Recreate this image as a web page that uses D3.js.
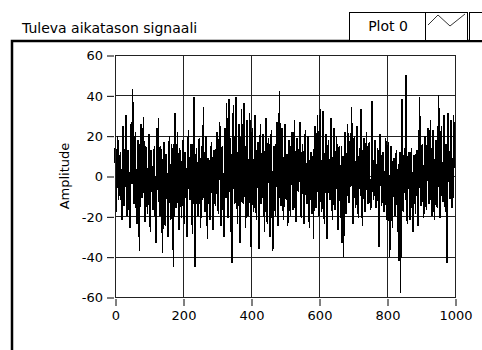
<!DOCTYPE html>
<html>
<head>
<meta charset="utf-8">
<script src="https://cdn.jsdelivr.net/npm/d3@7"></script>
<style>
  body { margin: 0; background: #fff; }
  svg { display: block; font-family: "DejaVu Sans", sans-serif; }
</style>
</head>
<body>
<div id="chart"></div>
<script>
// signal samples 0, 4, 8 ... 1000 (envelope and spikes)
const signalMain = [
  14, -18, 20, -8, 12, -22, 25, -15, 30, -20, 8, -26, 27, 43, -14, 22, -24, 18, -37, 26, -10, 29, -23, 12, -19,
  21, -28, 6, -17, 15, -33, 24, 29, -20, 10, -38, 17, -25, 4, -30, 20, -22, 12, -45, 31, -16, 22, -27, 9, -21,
  18, -24, 5, -30, 23, -12, 16, -29, 39, -45, 14, -20, 19, -26, 11, 34, -18, 20, -31, 8, -22, 17, -27, 13, -15,
  22, -19, 27, -25, 15, -30, 24, 36, -21, 38, -28, -43, 35, -14, 39, -24, 26, -33, 33, -12, 36, -26, 28, -20, 31,
  -35, 24, -18, 30, -22, 17, -36, 26, -10, 21, -28, 29, -24, 19, -30, 23, -37, 15, -20, 27, -25, 42, -15, 24, -22,
  26, -12, -25, 18, -20, 22, -17, 28, -23, 19, -8, 27, -21, 16, -24, 23, -14, 20, -26, 12, -19, -31, 25, -16, 30,
  -20, 33, -18, 32, -24, 21, -31, 18, -12, 29, -22, 24, -17, 20, -27, 15, -21, -33, -40, 22, -19, 26, -13, 18, 34,
  -24, 20, -16, 25, -21, 14, 33, -25, 19, -18, 22, -14, 17, -17, 37, -12, 18, -16, 14, -35, 21, -15, 12, -18, 19,
  -22, 17, -40, 15, -26, 9, -20, 13, -28, -42, -58, 38, -18, 14, 50, -24, 12, -22, 14, -28, 10, -19, 13, -25, 39,
  -15, 16, -21, 20, -17, 24, -14, 28, -20, 23, -22, 18, -16, 40, -21, 25, -13, 30, -18, -43, 31, -11, 28, -16, 30,
  4
];
// signal samples 2, 6, 10 ... 998, the dense core of the band
const signalMid = [
  -5, 10, -12, 6, -9, 15, -14, 11, -6, 13, -17, 9, -4, -10, 12, -13, 7, -16, 14, -11, 17, -8, 15, -12, 6,
  -9, 13, -11, 8, -16, 12, -7, -12, 15, -18, 9, -13, 11, -14, 7, -10, 16, -19, 13, -9, 8, -13, 14, -11, 10,
  -7, 12, -15, 9, -5, 11, -16, 13, -10, 8, -14, 10, -6, 15, -12, -8, 14, -11, 9, -15, 12, -8, 10, -13, 16,
  -6, 14, -9, 12, -13, 10, -11, 15, -8, 13, 11, -17, 12, -10, 14, -7, 9, -12, 16, -14, 10, -9, 13, -11, 12,
  10, -13, 15, -8, 12, -16, 11, -14, 9, -12, 13, -10, 15, -7, 11, -15, 8, -12, 14, -9, 16, -11, 10, -13, 12,
  -8, 11, 6, -10, 13, -9, 12, -15, 10, -7, 14, -11, 9, -13, 12, -8, 11, -16, 7, -12, 10, 13, -9, 14, -11,
  12, -10, 14, -13, 9, -15, 11, -8, 13, -12, 10, -14, 8, -11, 12, -9, 15, 10, -16, 12, -8, 11, -13, 10, -9,
  11, -8, 13, -12, 9, -10, -14, 12, -9, 10, -7, 12, -11, -6, 9, -8, 10, -12, 11, -7, 8, -10, 9, -13, 11,
  8, -14, 10, -12, 7, -11, 9, -13, 6, 12, 11, -10, 8, -12, -15, 9, -11, 8, -14, 10, -7, 11, -12, 9, -10,
  11, -9, 12, -10, 13, -8, 14, -11, 12, -13, 9, -10, 15, -14, 11, -9, 13, -10, 16, -12, 8, -11, 14, -9, 12
];

const xTicks = [0, 200, 400, 600, 800, 1000];
const yTicks = [-60, -40, -20, 0, 20, 40, 60];

const title = 'Tuleva aikatason signaali';
const yLabel = 'Amplitude';
const legendLabel = 'Plot 0';

// merge the two lists into one series of [sample, value]
const points = [];
signalMain.forEach((v, i) => {
  points.push([i * 4, v]);
  if (i < signalMid.length) points.push([i * 4 + 2, signalMid[i]]);
});

const width = 482;
const height = 350;
const plot = { left: 115, right: 455, top: 55, bottom: 297 };

const x = d3.scaleLinear([0, 1000], [plot.left, plot.right]);
const y = d3.scaleLinear([-60, 60], [plot.bottom, plot.top]);

const svg = d3.select('#chart')
  .append('svg')
  .attr('width', width)
  .attr('height', height);

// outer frame of the graph control
svg.append('path')
  .attr('d', `M12,${height + 5}V41H${width + 5}`)
  .attr('fill', 'none')
  .attr('stroke', '#000')
  .attr('stroke-width', 2.5);

// title
svg.append('text')
  .attr('x', 22)
  .attr('y', 33)
  .attr('font-size', 14)
  .attr('fill', '#000')
  .text(title);

// legend
const legend = svg.append('g');
legend.append('rect')
  .attr('x', 349.5).attr('y', 12.5).attr('width', 76).attr('height', 28)
  .attr('fill', '#fff').attr('stroke', '#000');
legend.append('text')
  .attr('x', 388).attr('y', 31)
  .attr('text-anchor', 'middle')
  .attr('font-size', 14)
  .text(legendLabel);
legend.append('rect')
  .attr('x', 425.5).attr('y', 12.5).attr('width', 42).attr('height', 28)
  .attr('fill', '#fff').attr('stroke', '#000');
legend.append('polyline')
  .attr('points', '428,25 438,15 450,26 465,14')
  .attr('fill', 'none').attr('stroke', '#000').attr('stroke-width', 0.8);
legend.append('rect')
  .attr('x', 469.5).attr('y', 12.5).attr('width', 20).attr('height', 28)
  .attr('fill', '#fff').attr('stroke', '#000');

// grid
const grid = svg.append('g').attr('stroke', '#222').attr('stroke-width', 1);
grid.selectAll('.gx')
  .data(xTicks.slice(1, -1))
  .join('line')
  .attr('x1', d => Math.round(x(d)) + 0.5).attr('x2', d => Math.round(x(d)) + 0.5)
  .attr('y1', plot.top).attr('y2', plot.bottom);
grid.selectAll('.gy')
  .data(yTicks.slice(1, -1))
  .join('line')
  .attr('x1', plot.left).attr('x2', plot.right)
  .attr('y1', d => Math.round(y(d)) + 0.5).attr('y2', d => Math.round(y(d)) + 0.5);

// signal (aliased, like the original control)
const line = d3.line()
  .x(d => x(d[0]))
  .y(d => y(d[1]));
svg.append('path')
  .datum(points)
  .attr('d', line)
  .attr('fill', 'none')
  .attr('stroke', '#000')
  .attr('stroke-width', 1.5)
  .attr('stroke-linejoin', 'bevel')
  .attr('shape-rendering', 'crispEdges');

// plot border
svg.append('rect')
  .attr('x', plot.left + 0.5).attr('y', plot.top + 0.5)
  .attr('width', plot.right - plot.left).attr('height', plot.bottom - plot.top)
  .attr('fill', 'none').attr('stroke', '#222');

// axes
const fmt = d => String(d);
const gY = svg.append('g')
  .attr('transform', `translate(${plot.left - 1},0.5)`)
  .call(d3.axisLeft(y).tickValues(yTicks).tickFormat(fmt).tickSize(7).tickPadding(4).tickSizeOuter(0));
const gX = svg.append('g')
  .attr('transform', `translate(0.5,${plot.bottom + 2})`)
  .call(d3.axisBottom(x).tickValues(xTicks).tickFormat(fmt).tickSize(7).tickPadding(5).tickSizeOuter(0));
[gY, gX].forEach(g => {
  g.select('.domain').remove();
  g.selectAll('text')
    .attr('font-family', '"DejaVu Sans", sans-serif')
    .attr('font-size', 13)
    .attr('fill', '#000');
  g.selectAll('.tick line').attr('stroke', '#000');
});

// y axis label
svg.append('text')
  .attr('transform', `translate(69,${y(0)}) rotate(-90)`)
  .attr('text-anchor', 'middle')
  .attr('font-size', 13)
  .text(yLabel);
</script>
</body>
</html>
